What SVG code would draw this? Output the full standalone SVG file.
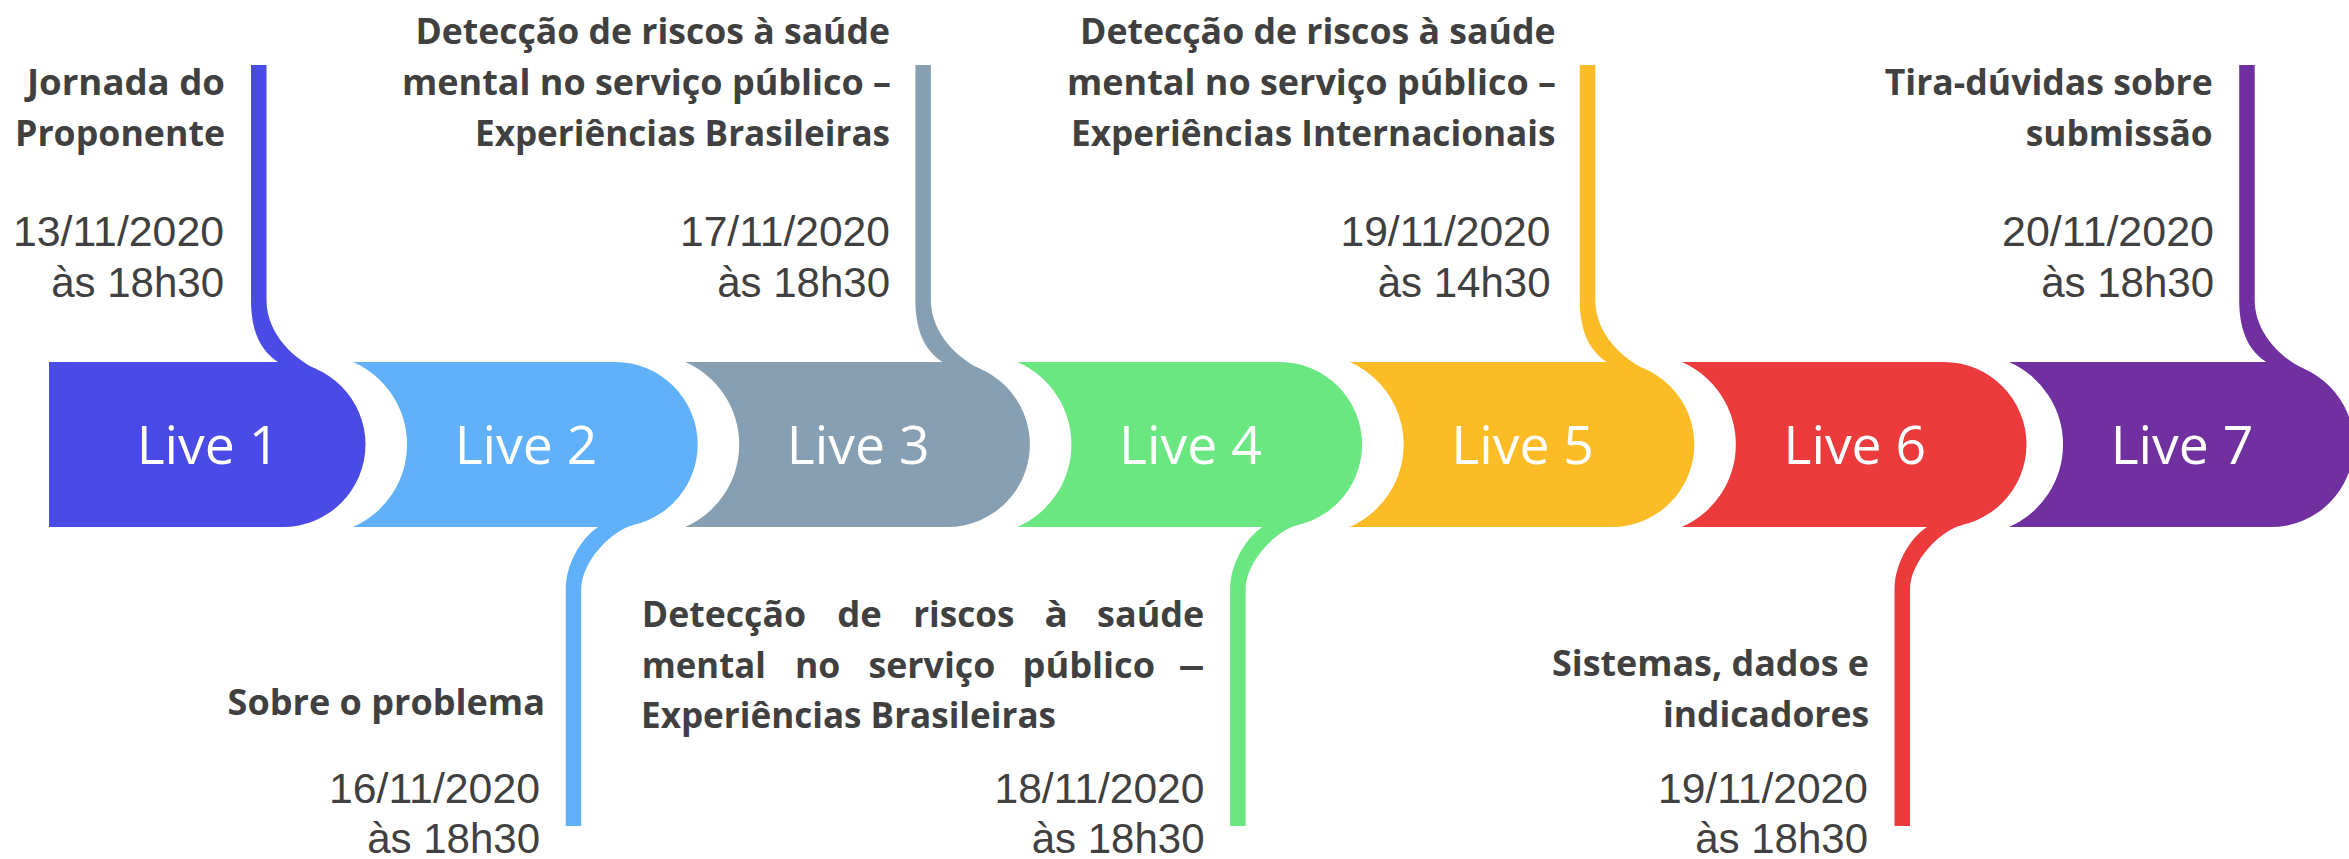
<svg xmlns="http://www.w3.org/2000/svg" width="2349" height="859" viewBox="0 0 2349 859">
<style>
.lbl{font-family:"Open Sans","Noto Sans","DejaVu Sans",sans-serif;font-weight:700;font-size:35px;fill:#404040}
.date{font-family:"Liberation Sans",Arial,sans-serif;font-size:42px;fill:#404040;text-anchor:end}
.live{font-family:"Open Sans","Noto Sans",sans-serif;font-size:53.5px;fill:#ffffff;text-anchor:middle}
.c1{fill:#4A4BE6}.c2{fill:#60B0FA}.c3{fill:#879FB3}.c4{fill:#6AE781}.c5{fill:#FBBC26}.c6{fill:#EB3B3D}.c7{fill:#7030A0}
</style>
<rect width="2349" height="859" fill="#ffffff"/>
<g id="connectors">
  <path class="c1" d="M251,65 H266.5 V300 C266.5,335 296,360 316,369 V400 H278 V362 C263,352 251,335 251,300 Z"/>
  <path class="c3" d="M915.4,65 H930.9 V300 C930.9,335 960.4,360 980.4,369 V400 H942.4 V362 C927.4,352 915.4,335 915.4,300 Z"/>
  <path class="c5" d="M1579.8,65 H1595.3 V300 C1595.3,335 1624.8,360 1644.8,369 V400 H1606.8 V362 C1591.8,352 1579.8,335 1579.8,300 Z"/>
  <path class="c7" d="M2239.2,65 H2254.7 V300 C2254.7,335 2284.2,360 2304.2,369 V400 H2266.2 V362 C2251.2,352 2239.2,335 2239.2,300 Z"/>
  <path class="c2" d="M565.7,826 H581.2 V590 C581.2,560 613.2,530 633.2,525 V500 H598.2 V527 C585.2,535 565.7,560 565.7,590 Z"/>
  <path class="c4" d="M1230.1,826 H1245.6 V590 C1245.6,560 1277.6,530 1297.6,525 V500 H1262.6 V527 C1249.6,535 1230.1,560 1230.1,590 Z"/>
  <path class="c6" d="M1894.5,826 H1910 V590 C1910,560 1942,530 1962,525 V500 H1927 V527 C1914,535 1894.5,560 1894.5,590 Z"/>
</g>
<g id="live1">
  <path class="c1" d="M49,362 H283 A82.5,82.5 0 0 1 283,527 H49 Z"/>
  <text class="live" x="208" y="464">Live 1</text>
  <text class="lbl" x="27" y="95" textLength="198" lengthAdjust="spacingAndGlyphs">Jornada do</text>
  <text class="lbl" x="15" y="146" textLength="210" lengthAdjust="spacingAndGlyphs">Proponente</text>
  <text class="date" x="224" y="246" textLength="211" lengthAdjust="spacingAndGlyphs">13/11/2020</text>
  <text class="date" x="224" y="297">às 18h30</text>
</g>
<g id="live2">
  <path class="c2" d="M353,362 H615.2 A82.5,82.5 0 0 1 615.2,527 H353 A90,90 0 0 0 353,362 Z"/>
  <text class="live" x="526" y="464">Live 2</text>
  <text class="lbl" x="227.6" y="715" textLength="317.4" lengthAdjust="spacingAndGlyphs">Sobre o problema</text>
  <text class="date" x="540" y="803" textLength="211" lengthAdjust="spacingAndGlyphs">16/11/2020</text>
  <text class="date" x="540" y="853">às 18h30</text>
</g>
<g id="live3">
  <path class="c3" d="M685.2,362 H947.4 A82.5,82.5 0 0 1 947.4,527 H685.2 A90,90 0 0 0 685.2,362 Z"/>
  <text class="live" x="858.2" y="464">Live 3</text>
  <text class="lbl" x="415.5" y="44" textLength="474.5" lengthAdjust="spacingAndGlyphs">Detecção de riscos à saúde</text>
  <text class="lbl" x="402" y="95" textLength="489" lengthAdjust="spacingAndGlyphs">mental no serviço público –</text>
  <text class="lbl" x="475" y="146" textLength="415" lengthAdjust="spacingAndGlyphs">Experiências Brasileiras</text>
  <text class="date" x="890" y="246" textLength="210" lengthAdjust="spacingAndGlyphs">17/11/2020</text>
  <text class="date" x="890" y="297">às 18h30</text>
</g>
<g id="live4">
  <path class="c4" d="M1017.4,362 H1279.6 A82.5,82.5 0 0 1 1279.6,527 H1017.4 A90,90 0 0 0 1017.4,362 Z"/>
  <text class="live" x="1190.4" y="464">Live 4</text>
  <text class="lbl" x="641.8" y="627" textLength="164.2" lengthAdjust="spacingAndGlyphs">Detecção</text>
  <text class="lbl" x="837.3" y="627" textLength="44.6" lengthAdjust="spacingAndGlyphs">de</text>
  <text class="lbl" x="913.2" y="627" textLength="101.3" lengthAdjust="spacingAndGlyphs">riscos</text>
  <text class="lbl" x="1044.5" y="627" textLength="23.5" lengthAdjust="spacingAndGlyphs">à</text>
  <text class="lbl" x="1097.1" y="627" textLength="107.1" lengthAdjust="spacingAndGlyphs">saúde</text>
  <text class="lbl" x="641.8" y="678" textLength="124" lengthAdjust="spacingAndGlyphs">mental</text>
  <text class="lbl" x="794.9" y="678" textLength="45.4" lengthAdjust="spacingAndGlyphs">no</text>
  <text class="lbl" x="868.5" y="678" textLength="126.8" lengthAdjust="spacingAndGlyphs">serviço</text>
  <text class="lbl" x="1022.5" y="678" textLength="132.6" lengthAdjust="spacingAndGlyphs">público</text>
  <text class="lbl" x="1178" y="678" textLength="27" lengthAdjust="spacingAndGlyphs">–</text>
  <text class="lbl" x="641" y="728" textLength="415" lengthAdjust="spacingAndGlyphs">Experiências Brasileiras</text>
  <text class="date" x="1204.5" y="803" textLength="210" lengthAdjust="spacingAndGlyphs">18/11/2020</text>
  <text class="date" x="1204.5" y="853">às 18h30</text>
</g>
<g id="live5">
  <path class="c5" d="M1349.6,362 H1611.8 A82.5,82.5 0 0 1 1611.8,527 H1349.6 A90,90 0 0 0 1349.6,362 Z"/>
  <text class="live" x="1522.6" y="464">Live 5</text>
  <text class="lbl" x="1080" y="44" textLength="475.5" lengthAdjust="spacingAndGlyphs">Detecção de riscos à saúde</text>
  <text class="lbl" x="1067" y="95" textLength="489" lengthAdjust="spacingAndGlyphs">mental no serviço público –</text>
  <text class="lbl" x="1071" y="146" textLength="484.5" lengthAdjust="spacingAndGlyphs">Experiências Internacionais</text>
  <text class="date" x="1550.5" y="246" textLength="210" lengthAdjust="spacingAndGlyphs">19/11/2020</text>
  <text class="date" x="1550.5" y="297">às 14h30</text>
</g>
<g id="live6">
  <path class="c6" d="M1681.8,362 H1944 A82.5,82.5 0 0 1 1944,527 H1681.8 A90,90 0 0 0 1681.8,362 Z"/>
  <text class="live" x="1854.8" y="464">Live 6</text>
  <text class="lbl" x="1552" y="676" textLength="317" lengthAdjust="spacingAndGlyphs">Sistemas, dados e</text>
  <text class="lbl" x="1663" y="727" textLength="206" lengthAdjust="spacingAndGlyphs">indicadores</text>
  <text class="date" x="1868" y="803" textLength="210" lengthAdjust="spacingAndGlyphs">19/11/2020</text>
  <text class="date" x="1868" y="853">às 18h30</text>
</g>
<g id="live7">
  <path class="c7" d="M2009,362 H2271.2 A82.5,82.5 0 0 1 2271.2,527 H2009 A90,90 0 0 0 2009,362 Z"/>
  <text class="live" x="2182" y="464">Live 7</text>
  <text class="lbl" x="1884.7" y="95" textLength="328" lengthAdjust="spacingAndGlyphs">Tira-dúvidas sobre</text>
  <text class="lbl" x="2025.7" y="146" textLength="187" lengthAdjust="spacingAndGlyphs">submissão</text>
  <text class="date" x="2214" y="246" textLength="212" lengthAdjust="spacingAndGlyphs">20/11/2020</text>
  <text class="date" x="2214" y="297">às 18h30</text>
</g>
</svg>
